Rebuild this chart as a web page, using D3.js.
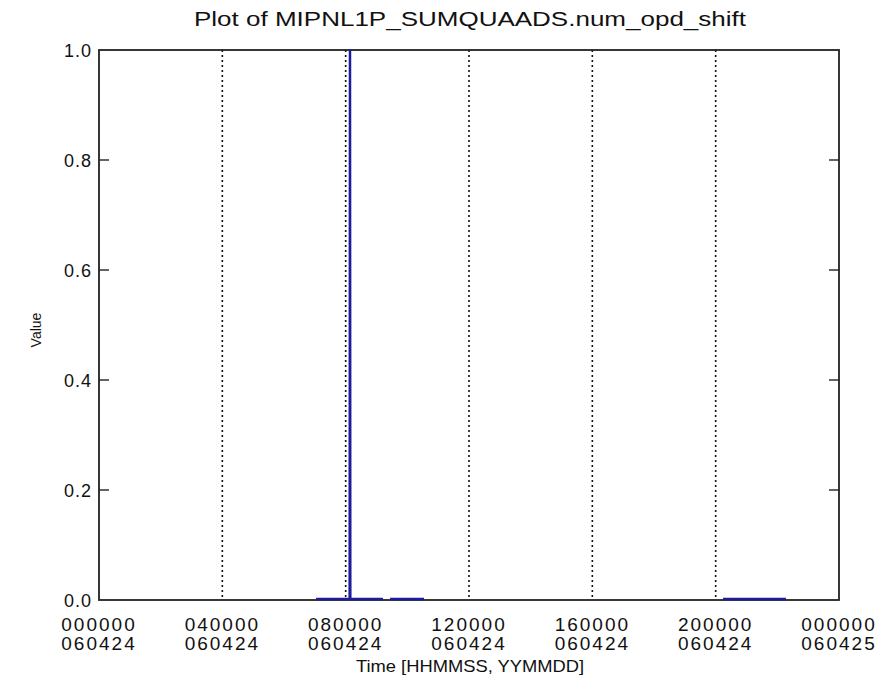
<!DOCTYPE html>
<html>
<head>
<meta charset="utf-8">
<script src="https://cdn.jsdelivr.net/npm/d3@7"></script>
<style>
  body { margin: 0; background: #fff; }
  svg text { font-family: "Liberation Sans", "DejaVu Sans", sans-serif; fill: #111; }
</style>
</head>
<body>
<div id="chart"></div>
<script>
// Line plot of an instrument flag over one day, IDL-style frame.
const W = 889, H = 698;
const M = { top: 50, right: 50, bottom: 98, left: 99 };

const titleText = 'Plot of MIPNL1P_SUMQUAADS.num_opd_shift';
const xTitle = 'Time [HHMMSS, YYMMDD]';
const yTitle = 'Value';

// x ticks in hours since 000000 060424
const xTickHours = [0, 4, 8, 12, 16, 20, 24];
const xTickTime = ['000000', '040000', '080000', '120000', '160000', '200000', '000000'];
const xTickDate = ['060424', '060424', '060424', '060424', '060424', '060424', '060425'];
const yTicks = [0, 0.2, 0.4, 0.6, 0.8, 1.0];

// data runs (hours, value); separate arrays are separate runs
const run1Hours = [7.04, 8.13, 8.14, 8.15, 9.21];
const run1Values = [0, 0, 1, 0, 0];
const run2Hours = [9.44, 10.54];
const run2Values = [0, 0];
const run3Hours = [20.24, 22.28];
const run3Values = [0, 0];

const runs = [[run1Hours, run1Values], [run2Hours, run2Values], [run3Hours, run3Values]]
  .map(([h, v]) => h.map((t, i) => ({ t, v: v[i] })));

const x = d3.scaleLinear().domain([0, 24]).range([M.left, W - M.right]);
const y = d3.scaleLinear().domain([0, 1]).range([H - M.bottom, M.top]);

const svg = d3.select('#chart').append('svg').attr('width', W).attr('height', H);

// dotted grid at inner x ticks
svg.append('g').selectAll('line').data(xTickHours.slice(1, -1)).join('line')
  .attr('x1', d => x(d)).attr('x2', d => x(d))
  .attr('y1', y(1)).attr('y2', y(0))
  .attr('stroke', '#111').attr('stroke-width', 1.6)
  .attr('stroke-dasharray', '2,3');

// inward y ticks on both sides
const tickG = svg.append('g').attr('stroke', '#222').attr('stroke-width', 1.4);
tickG.selectAll('line.l').data(yTicks.slice(1, -1)).join('line').attr('class', 'l')
  .attr('x1', M.left).attr('x2', M.left + 10).attr('y1', d => y(d)).attr('y2', d => y(d));
tickG.selectAll('line.r').data(yTicks.slice(1, -1)).join('line').attr('class', 'r')
  .attr('x1', W - M.right).attr('x2', W - M.right - 10).attr('y1', d => y(d)).attr('y2', d => y(d));

// frame
svg.append('rect')
  .attr('x', M.left).attr('y', M.top)
  .attr('width', W - M.left - M.right).attr('height', H - M.top - M.bottom)
  .attr('fill', 'none').attr('stroke', '#222').attr('stroke-width', 1.8);

// data, on top of the frame so the zero runs show
const line = d3.line().x(d => x(d.t)).y(d => y(d.v) - 1);
svg.append('g').selectAll('path').data(runs).join('path')
  .attr('d', line)
  .attr('fill', 'none')
  .attr('stroke', '#1c1c9c')
  .attr('stroke-width', 2.5);

// y tick labels
svg.append('g').selectAll('text').data(yTicks).join('text')
  .attr('x', M.left - 7).attr('y', d => y(d) + 1)
  .attr('dy', '0.35em')
  .attr('text-anchor', 'end')
  .attr('font-size', 18).attr('letter-spacing', 1)
  .text(d => d3.format('.1f')(d));

// x tick labels, two rows
const xl = svg.append('g').selectAll('g').data(xTickHours).join('g')
  .attr('transform', d => `translate(${x(d)},0)`);
xl.append('text').attr('y', 631).attr('text-anchor', 'middle')
  .attr('font-size', 19).attr('letter-spacing', 2)
  .text((d, i) => xTickTime[i]);
xl.append('text').attr('y', 650).attr('text-anchor', 'middle')
  .attr('font-size', 19).attr('letter-spacing', 2)
  .text((d, i) => xTickDate[i]);

// titles
svg.append('text').attr('x', 470).attr('y', 26).attr('text-anchor', 'middle')
  .attr('font-size', 20).attr('textLength', 552).attr('lengthAdjust', 'spacingAndGlyphs')
  .text(titleText);
svg.append('text').attr('x', 470).attr('y', 672).attr('text-anchor', 'middle')
  .attr('font-size', 17).attr('textLength', 228).attr('lengthAdjust', 'spacingAndGlyphs')
  .text(xTitle);
svg.append('text')
  .attr('transform', `translate(41,330) rotate(-90)`)
  .attr('text-anchor', 'middle').attr('font-size', 14)
  .text(yTitle);
</script>
</body>
</html>
